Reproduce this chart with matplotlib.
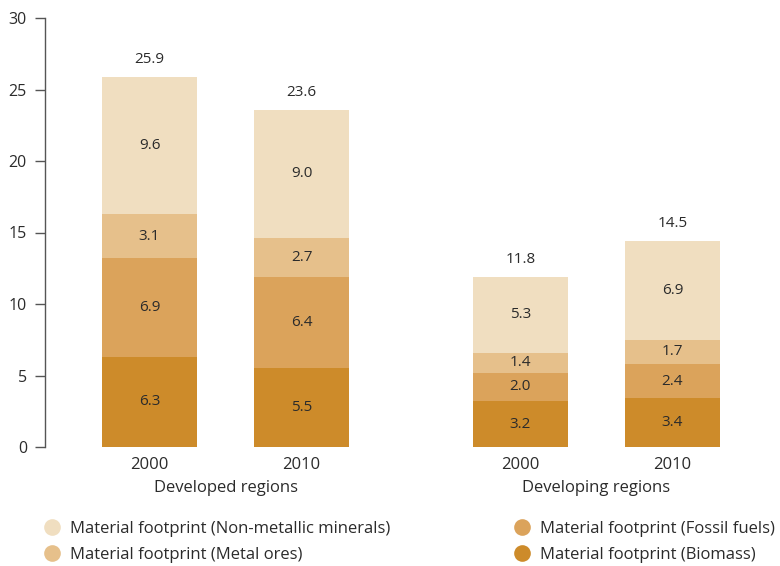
import matplotlib
matplotlib.use("Agg")
import matplotlib.pyplot as plt
from matplotlib.lines import Line2D

plt.rcParams['font.family'] = ['Open Sans', 'DejaVu Sans']

groups = ["Developed regions", "Developing regions"]
years = ["2000", "2010", "2000", "2010"]
series = ["Material footprint (Biomass)", "Material footprint (Fossil fuels)",
          "Material footprint (Metal ores)", "Material footprint (Non-metallic minerals)"]
biomass = [6.3, 5.5, 3.2, 3.4]
fossil_fuels = [6.9, 6.4, 2.0, 2.4]
metal_ores = [3.1, 2.7, 1.4, 1.7]
non_metallic = [9.6, 9.0, 5.3, 6.9]
totals = [25.9, 23.6, 11.8, 14.5]

colors = ["#CD8B2A", "#DBA35B", "#E6C08B", "#F0DEC0"]
text_color = "#2b2b2b"

xpos = [0.0, 1.0, 2.44, 3.44]
width = 0.625

fig = plt.figure(figsize=(7.8, 5.66), dpi=100)
ax = fig.add_axes([45 / 780, (566 - 447) / 566, 1 - 45 / 780, (447 - 18) / 566])

bottoms = [0.0] * 4
for vals, col in zip([biomass, fossil_fuels, metal_ores, non_metallic], colors):
    ax.bar(xpos, vals, width=width, bottom=bottoms, color=col, linewidth=0)
    for x, b, v in zip(xpos, bottoms, vals):
        ax.text(x, b + v / 2, f"{v:.1f}", ha="center", va="center",
                fontsize=11, color=text_color)
    bottoms = [b + v for b, v in zip(bottoms, vals)]

for x, top, t in zip(xpos, bottoms, totals):
    ax.text(x, top + 1.2, f"{t:.1f}", ha="center", va="center",
            fontsize=11, color=text_color)

ax.set_ylim(0, 30)
ax.set_xlim(-0.6875, 4.148)
ax.set_yticks(range(0, 31, 5))
ax.set_xticks(xpos)
ax.set_xticklabels(years)
ax.tick_params(axis="y", direction="out", length=7, width=1, color="#555555",
               labelsize=11.5, labelcolor=text_color, pad=6)
ax.tick_params(axis="x", length=0, labelsize=12, labelcolor=text_color, pad=7)
for s in ["top", "right", "bottom"]:
    ax.spines[s].set_visible(False)
ax.spines["left"].set_color("#555555")
ax.spines["left"].set_linewidth(1)

for g, (a, b) in zip(groups, [(0, 1), (2, 3)]):
    ax.text((xpos[a] + xpos[b]) / 2, -2.9, g, ha="center", va="center",
            fontsize=12, color=text_color)

def make_handles(idx):
    return [Line2D([0], [0], marker="o", linestyle="none", markersize=12,
                   markerfacecolor=colors[i], markeredgewidth=0) for i in idx]

legend_kw = dict(loc="upper left", frameon=False, fontsize=12, labelcolor=text_color,
                 handletextpad=0.45, labelspacing=0.6, handlelength=1.2,
                 borderaxespad=0, borderpad=0)
left_idx = [3, 2]
right_idx = [1, 0]
leg1 = fig.legend(make_handles(left_idx), [series[i] for i in left_idx],
                  bbox_to_anchor=(42 / 780, 1 - 521 / 566), **legend_kw)
leg2 = fig.legend(make_handles(right_idx), [series[i] for i in right_idx],
                  bbox_to_anchor=(512 / 780, 1 - 521 / 566), **legend_kw)

fig.savefig("out.png", dpi=100)
